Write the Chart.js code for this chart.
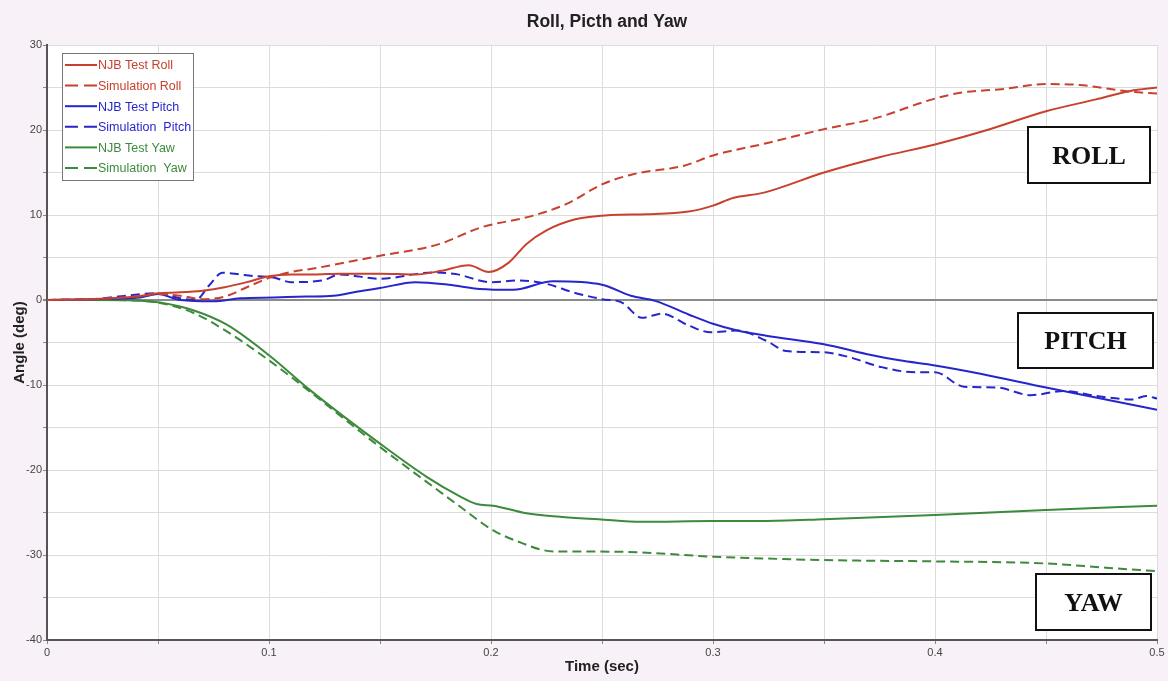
<!DOCTYPE html>
<html lang="en">
<head>
<meta charset="UTF-8" />
<title>Roll, Picth and Yaw</title>
<script src="https://cdn.jsdelivr.net/npm/chart.js"></script>
<style>
  html, body { margin: 0; padding: 0; background: #f8f2f8; }
  #wrap { width: 1168px; height: 681px; position: relative; }
</style>
</head>
<body>
<div id="wrap"><canvas id="grafico"></canvas></div>
<script>
  // values (time in sec, angle in deg)
  const rollTestTime = [0, 0.02, 0.04, 0.05, 0.06, 0.07, 0.08, 0.09, 0.1, 0.11, 0.12, 0.132, 0.15, 0.166, 0.177, 0.19, 0.199, 0.208, 0.216, 0.225, 0.238, 0.254, 0.27, 0.289, 0.3, 0.309, 0.3225, 0.35, 0.375, 0.4, 0.4235, 0.45, 0.4725, 0.488, 0.5];
  const rollTestAngle = [0, 0.1, 0.4, 0.8, 0.9, 1.1, 1.5, 2.1, 2.8, 3.0, 3.0, 3.1, 3.1, 3.0, 3.4, 4.1, 3.3, 4.4, 6.6, 8.2, 9.5, 10.0, 10.1, 10.4, 11.1, 12.0, 12.6, 15.0, 16.8, 18.3, 20.0, 22.2, 23.6, 24.6, 25.0];

  const rollSimTime = [0, 0.02, 0.04, 0.05, 0.06, 0.07, 0.08, 0.09, 0.1, 0.11, 0.12, 0.132, 0.15, 0.177, 0.195, 0.2186, 0.234, 0.25, 0.264, 0.287, 0.3, 0.325, 0.35, 0.372, 0.4, 0.412, 0.43, 0.45, 0.465, 0.488, 0.5];
  const rollSimAngle = [0, 0.1, 0.4, 0.7, 0.5, 0.1, 0.4, 1.5, 2.6, 3.3, 3.7, 4.3, 5.2, 6.6, 8.5, 9.9, 11.3, 13.6, 14.8, 15.8, 17.0, 18.5, 20.1, 21.3, 23.7, 24.4, 24.8, 25.4, 25.3, 24.5, 24.3];

  const pitchTestTime = [0, 0.02, 0.042, 0.05, 0.06, 0.075, 0.087, 0.102, 0.117, 0.129, 0.14, 0.15, 0.166, 0.181, 0.195, 0.21, 0.228, 0.25, 0.263, 0.274, 0.289, 0.3, 0.311, 0.324, 0.35, 0.369, 0.384, 0.4, 0.421, 0.45, 0.473, 0.5];
  const pitchTestAngle = [0, 0.1, 0.3, 0.7, 0, -0.15, 0.2, 0.3, 0.4, 0.5, 1.0, 1.4, 2.1, 1.8, 1.3, 1.2, 2.2, 1.8, 0.5, -0.1, -1.7, -2.8, -3.6, -4.2, -5.2, -6.35, -7.1, -7.7, -8.7, -10.3, -11.5, -12.9];

  const pitchSimTime = [0, 0.02, 0.032, 0.05, 0.06, 0.067, 0.073, 0.079, 0.087, 0.094, 0.102, 0.11, 0.124, 0.132, 0.15, 0.174, 0.184, 0.2, 0.213, 0.225, 0.237, 0.25, 0.259, 0.268, 0.277, 0.289, 0.299, 0.311, 0.324, 0.333, 0.35, 0.361, 0.376, 0.391, 0.4, 0.413, 0.428, 0.443, 0.458, 0.473, 0.489, 0.495, 0.5];
  const pitchSimAngle = [0, 0.1, 0.4, 0.8, 0.2, 0, 1.7, 3.2, 3.0, 2.8, 2.65, 2.1, 2.3, 3.0, 2.5, 3.25, 3.06, 2.1, 2.3, 1.9, 0.9, 0.1, -0.3, -2.1, -1.6, -3.0, -3.8, -3.6, -4.8, -6.0, -6.15, -6.7, -7.9, -8.5, -8.5, -10.2, -10.3, -11.2, -10.7, -11.3, -11.7, -11.3, -11.6];

  const yawTestTime = [0, 0.02, 0.04, 0.0509, 0.0658, 0.081, 0.1, 0.1185, 0.15, 0.171, 0.186, 0.1935, 0.201, 0.216, 0.231, 0.2485, 0.268, 0.3, 0.322, 0.35, 0.4, 0.45, 0.5];
  const yawTestAngle = [0, 0, -0.05, -0.3, -1.2, -2.9, -6.5, -10.6, -16.9, -20.8, -23.1, -24.0, -24.2, -25.1, -25.5, -25.8, -26.1, -26.0, -26.0, -25.8, -25.3, -24.7, -24.2];

  const yawSimTime = [0, 0.02, 0.04, 0.0509, 0.0658, 0.081, 0.1, 0.1185, 0.15, 0.171, 0.186, 0.201, 0.216, 0.223, 0.231, 0.2485, 0.268, 0.3, 0.322, 0.35, 0.4, 0.45, 0.477, 0.5];
  const yawSimAngle = [0, 0, -0.05, -0.35, -1.5, -3.7, -7.1, -10.8, -17.3, -21.4, -24.3, -27.1, -28.8, -29.4, -29.6, -29.6, -29.7, -30.2, -30.4, -30.6, -30.75, -31.0, -31.5, -31.9];

  const seriesNames = ["NJB Test Roll", "Simulation Roll", "NJB Test Pitch", "Simulation  Pitch", "NJB Test Yaw", "Simulation  Yaw"];
  const boxLabels = ["ROLL", "PITCH", "YAW"];

  const vermelho = "#c8412e";
  const azul = "#2626cc";
  const verde = "#3d8a3d";
  const tracejado = [9, 5];

  function pontos(tempos, angulos) {
    return tempos.map((t, i) => ({ x: t, y: angulos[i] }));
  }

  function serie(nome, tempos, angulos, cor, dash) {
    return {
      label: nome,
      data: pontos(tempos, angulos),
      borderColor: cor,
      borderWidth: 2,
      borderDash: dash,
      pointRadius: 0,
      fill: false,
      cubicInterpolationMode: "monotone",
    };
  }

  // fundo lilas + area do grafico branca
  const fundo = {
    id: "fundo",
    beforeDraw(chart) {
      const { ctx, chartArea: a } = chart;
      ctx.save();
      ctx.fillStyle = "#f8f2f8";
      ctx.fillRect(0, 0, chart.width, chart.height);
      ctx.fillStyle = "#ffffff";
      ctx.fillRect(a.left, a.top, a.right - a.left, a.bottom - a.top);
      ctx.restore();
    },
  };

  // titulo, legenda com moldura e caixas ROLL / PITCH / YAW
  const extras = {
    id: "extras",
    afterDraw(chart) {
      const { ctx, chartArea: a } = chart;
      ctx.save();
      ctx.fillStyle = "#222";
      ctx.font = "bold 17.5px 'Liberation Sans', Arial, sans-serif";
      ctx.textAlign = "center";
      ctx.textBaseline = "middle";
      ctx.fillText("Roll, Picth and Yaw", (a.left + a.right) / 2 + 5, 22);

      // legenda
      const lx = a.left + 15, ly = a.top + 8;
      ctx.fillStyle = "#ffffff";
      ctx.fillRect(lx, ly, 131, 127);
      ctx.strokeStyle = "#777";
      ctx.lineWidth = 1;
      ctx.strokeRect(lx + 0.5, ly + 0.5, 131, 127);
      ctx.font = "12.5px 'Liberation Sans', Arial, sans-serif";
      ctx.textAlign = "left";
      chart.data.datasets.forEach((ds, i) => {
        const y = ly + 12 + i * 20.6;
        ctx.strokeStyle = ds.borderColor;
        ctx.lineWidth = 2;
        ctx.setLineDash(ds.borderDash && ds.borderDash.length ? [13, 6] : []);
        ctx.beginPath();
        ctx.moveTo(lx + 3, y);
        ctx.lineTo(lx + 35, y);
        ctx.stroke();
        ctx.setLineDash([]);
        ctx.fillStyle = ds.borderColor;
        ctx.fillText(ds.label, lx + 36, y + 1);
      });

      // caixas de rotulo
      const caixas = [
        [1028, 127, 122, 56],
        [1018, 313, 135, 55],
        [1036, 574, 115, 56],
      ];
      ctx.font = "bold 26px 'Liberation Serif', 'Times New Roman', serif";
      ctx.textAlign = "center";
      caixas.forEach((c, i) => {
        ctx.fillStyle = "#ffffff";
        ctx.fillRect(c[0], c[1], c[2], c[3]);
        ctx.strokeStyle = "#111";
        ctx.lineWidth = 2;
        ctx.strokeRect(c[0], c[1], c[2], c[3]);
        ctx.fillStyle = "#111";
        ctx.fillText(boxLabels[i], c[0] + c[2] / 2, c[1] + c[3] / 2 + 2);
      });
      ctx.restore();
    },
  };

  const fonteTicks = { family: "'Liberation Sans', Arial, sans-serif", size: 11 };
  const fonteTitulo = { family: "'Liberation Sans', Arial, sans-serif", size: 15, weight: "bold" };

  new Chart(document.getElementById("grafico"), {
    type: "line",
    data: {
      datasets: [
        serie(seriesNames[0], rollTestTime, rollTestAngle, vermelho, []),
        serie(seriesNames[1], rollSimTime, rollSimAngle, vermelho, tracejado),
        serie(seriesNames[2], pitchTestTime, pitchTestAngle, azul, []),
        serie(seriesNames[3], pitchSimTime, pitchSimAngle, azul, tracejado),
        serie(seriesNames[4], yawTestTime, yawTestAngle, verde, []),
        serie(seriesNames[5], yawSimTime, yawSimAngle, verde, tracejado),
      ],
    },
    options: {
      responsive: true,
      maintainAspectRatio: false,
      animation: false,
      layout: { padding: { top: 45, right: 11, left: 0, bottom: 0 } },
      plugins: {
        legend: { display: false },
        title: { display: false },
        tooltip: { enabled: false },
      },
      scales: {
        x: {
          type: "linear",
          min: 0,
          max: 0.5,
          afterFit: (s) => { s.height = 41; },
          ticks: {
            stepSize: 0.05,
            autoSkip: false,
            maxRotation: 0,
            padding: 2,
            color: "#444",
            font: fonteTicks,
            callback: (v) => {
              const d = v * 10;
              return Math.abs(d - Math.round(d)) < 1e-6 ? String(Math.round(d) / 10) : "";
            },
          },
          grid: { color: "#dcdcdc", tickLength: 4, tickColor: "#888" },
          border: { color: "#555", width: 2 },
          title: {
            display: true,
            text: "Time (sec)",
            color: "#222",
            font: fonteTitulo,
            padding: { top: 0, bottom: 5 },
          },
        },
        y: {
          min: -40,
          max: 30,
          afterFit: (s) => { s.width = 47; },
          ticks: {
            stepSize: 5,
            autoSkip: false,
            padding: 1,
            color: "#444",
            font: fonteTicks,
            callback: (v) => (v % 10 === 0 ? v : ""),
          },
          grid: {
            color: (c) => (c.tick && c.tick.value === 0 ? "#8a8a8a" : "#dcdcdc"),
            lineWidth: (c) => (c.tick && c.tick.value === 0 ? 2 : 1),
            tickLength: 4,
            tickColor: "#888",
          },
          border: { color: "#555", width: 2 },
          title: {
            display: true,
            text: "Angle (deg)",
            color: "#222",
            font: fonteTitulo,
            padding: { top: 11, bottom: 0 },
          },
        },
      },
    },
    plugins: [fundo, extras],
  });
</script>
</body>
</html>
